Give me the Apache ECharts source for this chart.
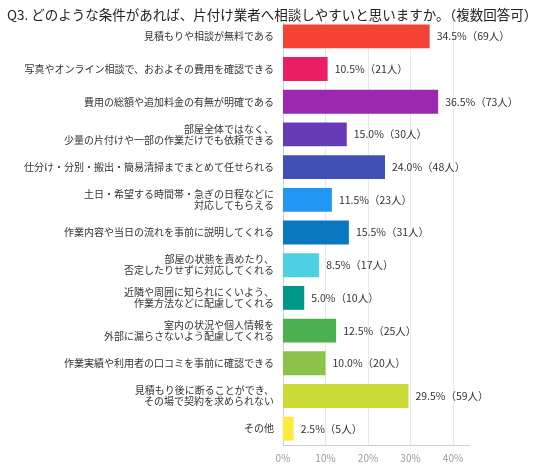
<!DOCTYPE html>
<html>
<head>
<meta charset="UTF-8">
<title>Q3</title>
<style>
    html, body { margin: 0; padding: 0; background: #ffffff; }
    #main { width: 536px; height: 464px; }
</style>
<script src="https://cdn.jsdelivr.net/npm/echarts@6/dist/echarts.min.js"></script>
</head>
<body>
<div id="main"></div>
<script type="text/javascript">
    // 項目（上から順）
    var categories = [
        '見積もりや相談が無料である',
        '写真やオンライン相談で、おおよその費用を確認できる',
        '費用の総額や追加料金の有無が明確である',
        '部屋全体ではなく、\n少量の片付けや一部の作業だけでも依頼できる',
        '仕分け・分別・搬出・簡易清掃までまとめて任せられる',
        '土日・希望する時間帯・急ぎの日程などに\n対応してもらえる',
        '作業内容や当日の流れを事前に説明してくれる',
        '部屋の状態を責めたり、\n否定したりせずに対応してくれる',
        '近隣や周囲に知られにくいよう、\n作業方法などに配慮してくれる',
        '室内の状況や個人情報を\n外部に漏らさないよう配慮してくれる',
        '作業実績や利用者の口コミを事前に確認できる',
        '見積もり後に断ることができ、\nその場で契約を求められない',
        'その他'
    ];
    var percents = [34.5, 10.5, 36.5, 15.0, 24.0, 11.5, 15.5, 8.5, 5.0, 12.5, 10.0, 29.5, 2.5];
    var counts = [69, 21, 73, 30, 48, 23, 31, 17, 10, 25, 20, 59, 5];
    var barColors = [
        '#f44336', '#e91e63', '#9c27b0', '#673ab7', '#3f51b5', '#2196f3', '#0a78c0',
        '#4dd0e1', '#009688', '#4caf50', '#8bc34a', '#cddc39', '#ffeb3b'
    ];
    var xTicks = [0, 10, 20, 30, 40];

    var font = '"Noto Sans CJK JP", "Noto Sans", sans-serif';
    var myChart = echarts.init(document.getElementById('main'));

    var option = {
        backgroundColor: '#ffffff',
        animation: false,
        title: {
            text: 'Q3. どのような条件があれば、片付け業者へ相談しやすいと思いますか。（複数回答可）',
            left: 2,
            top: 3,
            textStyle: {
                fontFamily: font,
                fontSize: 13.5,
                fontWeight: 'normal',
                color: '#222'
            }
        },
        grid: {
            left: 283,
            right: 66,
            top: 20,
            bottom: 19
        },
        xAxis: {
            type: 'value',
            min: 0,
            max: 44,
            interval: 10,
            axisLine: { show: true, lineStyle: { color: '#d0d0d0' } },
            axisTick: { show: false },
            axisLabel: {
                fontFamily: font,
                fontSize: 10,
                color: '#999',
                margin: 8,
                formatter: function (v) {
                    return xTicks.indexOf(v) >= 0 ? v + '%' : '';
                }
            },
            splitLine: {
                show: true,
                showMaxLine: false,
                lineStyle: { color: '#e8e8e8' }
            }
        },
        yAxis: {
            type: 'category',
            inverse: true,
            data: categories,
            axisLine: { show: true, lineStyle: { color: '#d0d0d0' } },
            axisTick: { show: false },
            axisLabel: {
                fontFamily: font,
                fontSize: 10,
                lineHeight: 11,
                color: '#333',
                margin: 9
            }
        },
        series: [
            {
                type: 'bar',
                barCategoryGap: '27%',
                data: percents.map(function (v, i) {
                    return { value: v, itemStyle: { color: barColors[i] } };
                }),
                label: {
                    show: true,
                    position: 'right',
                    distance: 7,
                    fontFamily: font,
                    fontSize: 10.5,
                    color: '#333',
                    formatter: function (p) {
                        return p.value.toFixed(1) + '%（' + counts[p.dataIndex] + '人）';
                    }
                }
            }
        ]
    };
    myChart.setOption(option);
</script>
</body>
</html>
